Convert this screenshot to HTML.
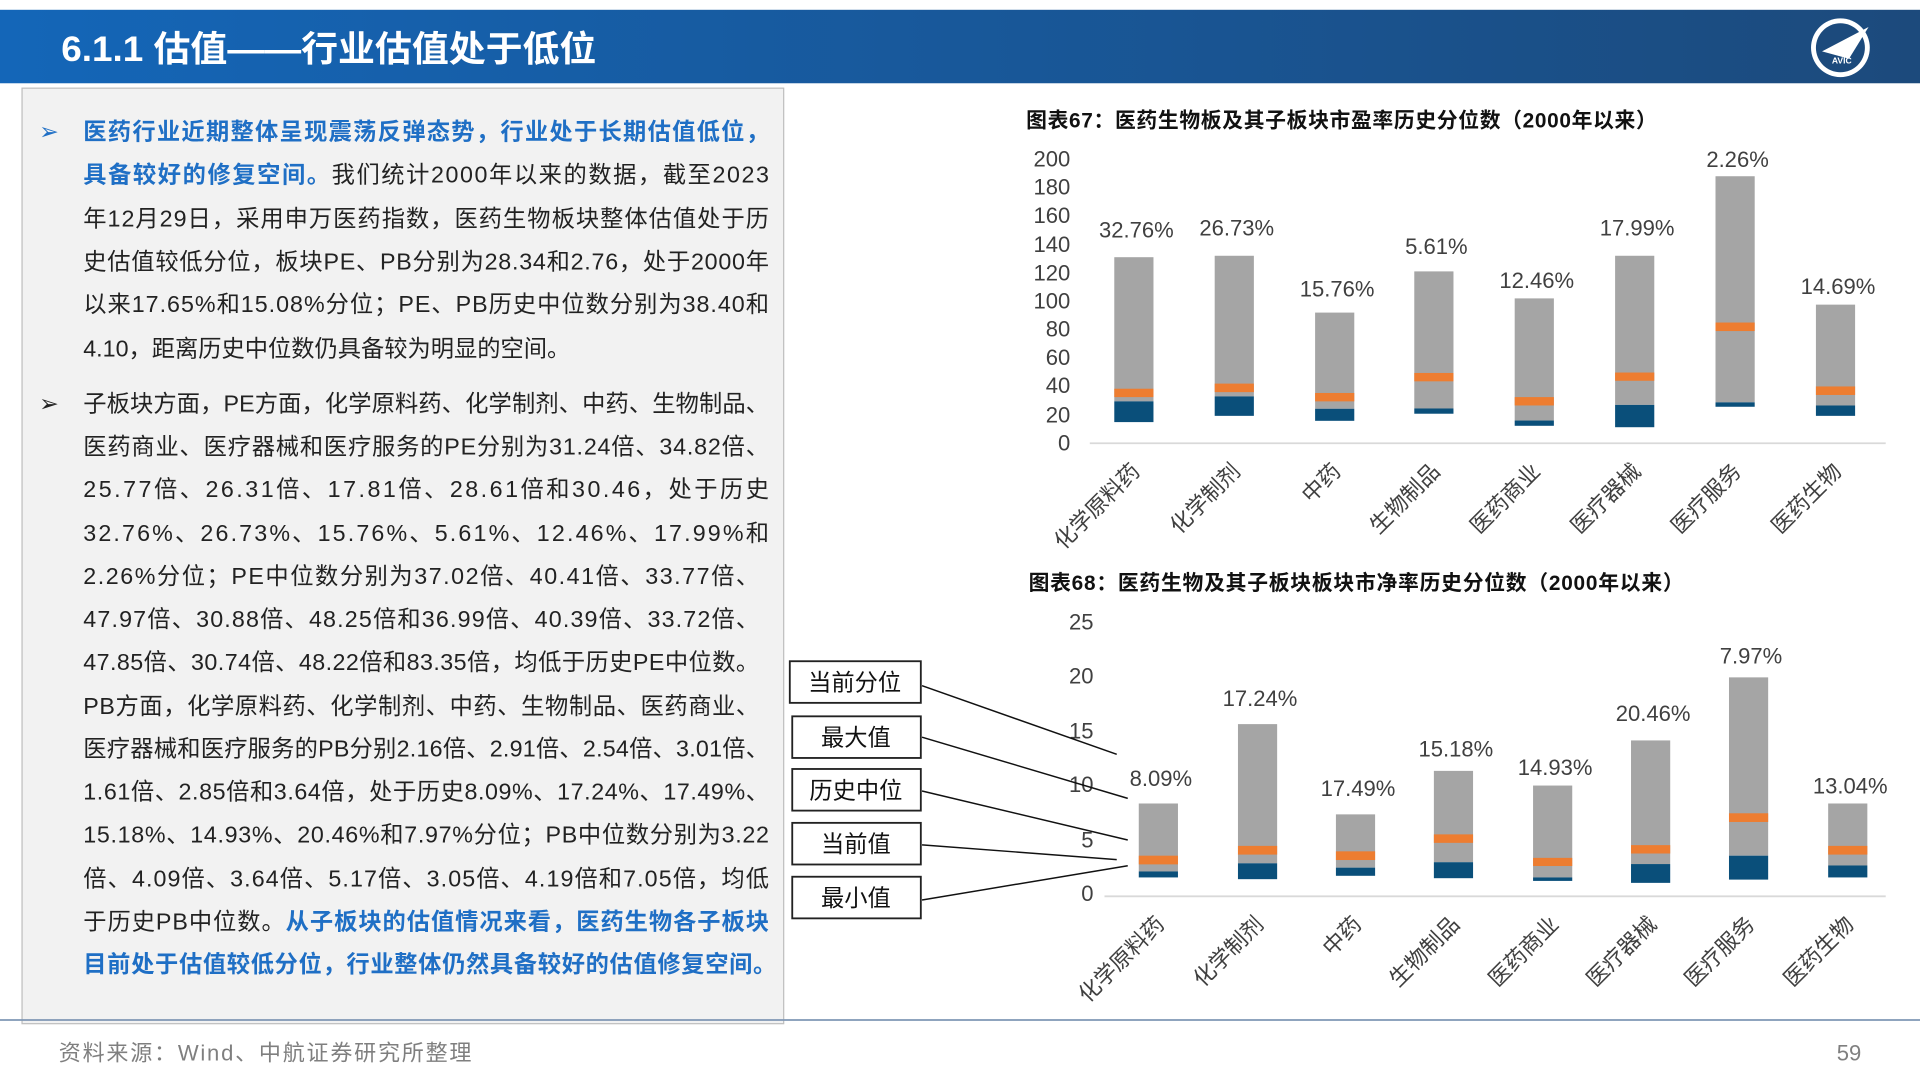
<!DOCTYPE html>
<html><head><meta charset="utf-8"><style>
html,body{margin:0;padding:0;background:#fff;}
svg{display:block;}
text{font-family:"Liberation Sans","Noto Sans CJK SC",sans-serif;}
</style></head><body>
<svg width="1920" height="1080" viewBox="0 0 1568 882" xmlns="http://www.w3.org/2000/svg">
<defs><linearGradient id="hg" x1="0" x2="1" y1="0" y2="0"><stop offset="0" stop-color="#1466b8"/><stop offset="1" stop-color="#1c4a7c"/></linearGradient></defs>
<rect x="0" y="8" width="1568" height="60" fill="url(#hg)"/>
<text x="50" y="50" font-size="29" font-weight="bold" fill="#fff" textLength="437" lengthAdjust="spacingAndGlyphs">6.1.1 估值——行业估值处于低位</text>
<circle cx="1503" cy="39" r="24" fill="#fff"/><circle cx="1503" cy="39" r="20" fill="#1c4a7c"/>
<path d="M1488 42 L1526 22 L1510 48 Z" fill="#fff"/><text x="1496" y="52" font-size="7" fill="#fff" font-weight="bold">AVIC</text>
<rect x="18" y="72" width="622" height="764" fill="#f2f2f2" stroke="#bfbfbf"/>
<line x1="0" y1="833" x2="1568" y2="833" stroke="#7f97b5" stroke-width="1.5"/>
<text x="48" y="866" font-size="18" fill="#7f7f7f" textLength="337">资料来源：Wind、中航证券研究所整理</text>
<text x="1500" y="866" font-size="18" fill="#7f7f7f">59</text>
<g font-size="19" fill="#222">
<text x="32" y="114" fill="#1f6fc5">➢</text>
<text x="68" y="114" textLength="560" fill="#1f6fc5" font-weight="bold">医药行业近期整体呈现震荡反弹态势，行业处于长期估值低位，</text>
<text x="68" y="149" textLength="560"><tspan fill="#1f6fc5" font-weight="bold">具备较好的修复空间。</tspan>我们统计2000年以来的数据，截至2023</text>
<text x="68" y="185" textLength="560">年12月29日，采用申万医药指数，医药生物板块整体估值处于历</text>
<text x="68" y="220" textLength="560">史估值较低分位，板块PE、PB分别为28.34和2.76，处于2000年</text>
<text x="68" y="255" textLength="560">以来17.65%和15.08%分位；PE、PB历史中位数分别为38.40和</text>
<text x="68" y="291">4.10，距离历史中位数仍具备较为明显的空间。</text>
<text x="32" y="336">➢</text>
<text x="68" y="336" textLength="560">子板块方面，PE方面，化学原料药、化学制剂、中药、生物制品、</text>
<text x="68" y="371" textLength="560">医药商业、医疗器械和医疗服务的PE分别为31.24倍、34.82倍、</text>
<text x="68" y="406" textLength="560">25.77倍、26.31倍、17.81倍、28.61倍和30.46，处于历史</text>
<text x="68" y="442" textLength="560">32.76%、26.73%、15.76%、5.61%、12.46%、17.99%和</text>
<text x="68" y="477" textLength="552">2.26%分位；PE中位数分别为37.02倍、40.41倍、33.77倍、</text>
<text x="68" y="512" textLength="552">47.97倍、30.88倍、48.25倍和36.99倍、40.39倍、33.72倍、</text>
<text x="68" y="547" textLength="552">47.85倍、30.74倍、48.22倍和83.35倍，均低于历史PE中位数。</text>
<text x="68" y="583" textLength="552">PB方面，化学原料药、化学制剂、中药、生物制品、医药商业、</text>
<text x="68" y="618" textLength="560">医疗器械和医疗服务的PB分别2.16倍、2.91倍、2.54倍、3.01倍、</text>
<text x="68" y="653" textLength="560">1.61倍、2.85倍和3.64倍，处于历史8.09%、17.24%、17.49%、</text>
<text x="68" y="688" textLength="560">15.18%、14.93%、20.46%和7.97%分位；PB中位数分别为3.22</text>
<text x="68" y="724" textLength="560">倍、4.09倍、3.64倍、5.17倍、3.05倍、4.19倍和7.05倍，均低</text>
<text x="68" y="759" textLength="560">于历史PB中位数。<tspan fill="#1f6fc5" font-weight="bold">从子板块的估值情况来看，医药生物各子板块</tspan></text>
<text x="68" y="794" textLength="566" fill="#1f6fc5" font-weight="bold">目前处于估值较低分位，行业整体仍然具备较好的估值修复空间。</text>
</g>
<text x="838" y="104" font-size="17" font-weight="bold" fill="#111" textLength="515">图表67：医药生物板及其子板块市盈率历史分位数（2000年以来）</text>
<g font-size="18" fill="#404040" text-anchor="end">
<text x="874" y="136">200</text><text x="874" y="159">180</text><text x="874" y="182">160</text><text x="874" y="206">140</text><text x="874" y="229">120</text><text x="874" y="252">100</text><text x="874" y="275">80</text><text x="874" y="298">60</text><text x="874" y="321">40</text><text x="874" y="345">20</text><text x="874" y="368">0</text>
</g>
<line x1="890" y1="362" x2="1540" y2="362" stroke="#d9d9d9" stroke-width="1.5"/>
<g id="c1"></g>
<text x="840" y="482" font-size="17" font-weight="bold" fill="#111" textLength="535">图表68：医药生物及其子板块板块市净率历史分位数（2000年以来）</text>
<g font-size="18" fill="#404040" text-anchor="end">
<text x="893" y="514">25</text><text x="893" y="558">20</text><text x="893" y="603">15</text><text x="893" y="647">10</text><text x="893" y="692">5</text><text x="893" y="736">0</text>
</g>
<line x1="902" y1="732" x2="1540" y2="732" stroke="#d9d9d9" stroke-width="1.5"/>
<g id="c2"></g>
<g font-size="19" fill="#111" text-anchor="middle">
<rect x="645" y="540" width="107" height="34" fill="#fff" stroke="#222" stroke-width="1.5"/><text x="698" y="564">当前分位</text>
<rect x="647" y="585" width="105" height="34" fill="#fff" stroke="#222" stroke-width="1.5"/><text x="699" y="609">最大值</text>
<rect x="647" y="628" width="105" height="34" fill="#fff" stroke="#222" stroke-width="1.5"/><text x="699" y="652">历史中位</text>
<rect x="647" y="672" width="105" height="34" fill="#fff" stroke="#222" stroke-width="1.5"/><text x="699" y="696">当前值</text>
<rect x="647" y="716" width="105" height="34" fill="#fff" stroke="#222" stroke-width="1.5"/><text x="699" y="740">最小值</text>
</g>
<g stroke="#111" stroke-width="1.2">
<line x1="753" y1="560" x2="912" y2="616"/><line x1="753" y1="602" x2="921" y2="652"/><line x1="753" y1="646" x2="921" y2="686"/><line x1="753" y1="690" x2="912" y2="702"/><line x1="753" y1="735" x2="921" y2="707"/>
</g>
<script>
const NS="http://www.w3.org/2000/svg";
const cats=["化学原料药","化学制剂","中药","生物制品","医药商业","医疗器械","医疗服务","医药生物"];
function el(p,t,a,txt){const e=document.createElementNS(NS,t);for(const k in a)e.setAttribute(k,a[k]);if(txt)e.textContent=txt;p.appendChild(e);return e;}
function draw(id,xs,y0,k,data,labs,labY,catY){
 const g=document.getElementById(id);
 data.forEach((d,i)=>{const [top,o1,o2,d1,d2]=d;const x=xs[i]-16;
  el(g,"rect",{x:x,y:y0-top*k,width:32,height:(top-d1)*k,fill:"#a5a5a5"});
  el(g,"rect",{x:x,y:y0-o1*k,width:32,height:(o1-o2)*k,fill:"#ed7d31"});
  el(g,"rect",{x:x,y:y0-d1*k,width:32,height:(d1-d2)*k,fill:"#0a4f7a"});
  el(g,"text",{x:xs[i]+2,y:labY[i]+7,"font-size":18,fill:"#404040","text-anchor":"middle"},labs[i]);
  el(g,"text",{transform:`translate(${xs[i]+6},${catY}) rotate(-45)`,"font-size":18,fill:"#404040","text-anchor":"end"},cats[i]);
 });
}
draw("c1",[926,1008,1090,1171,1253,1335,1417,1499],362,1.16,
 [[131,38.4,32.5,29.5,14.9],[132,42,36,33,19.3],[92,35.4,29.5,24.3,15.8],[121,49.5,43.6,24.5,20.8],[102,32.5,26.6,16,12.3],[132,49.8,44,27,11.3],[188,85,79,28.8,25.7],[97.6,40,34,26.6,19.3]],
 ["32.76%","26.73%","15.76%","5.61%","12.46%","17.99%","2.26%","14.69%"],[187,185.5,235,200.6,228,185.5,129.5,233],386);
draw("c2",[946,1027,1107,1187,1268,1348,1428,1509],729,8.88,
 [[8.2,3.4,2.6,1.95,1.4],[15.5,4.3,3.5,2.7,1.24],[7.2,3.8,3.0,2.3,1.55],[11.2,5.36,4.58,2.8,1.33],[9.85,3.2,2.45,1.4,1.08],[14,4.37,3.6,2.63,0.9],[19.8,7.3,6.5,3.4,1.2],[8.2,4.3,3.5,2.5,1.4]],
 ["8.09%","17.24%","17.49%","15.18%","14.93%","20.46%","7.97%","13.04%"],[635,569.5,643,611,626,582,535,641],756);
</script>
</svg>
</body></html>
